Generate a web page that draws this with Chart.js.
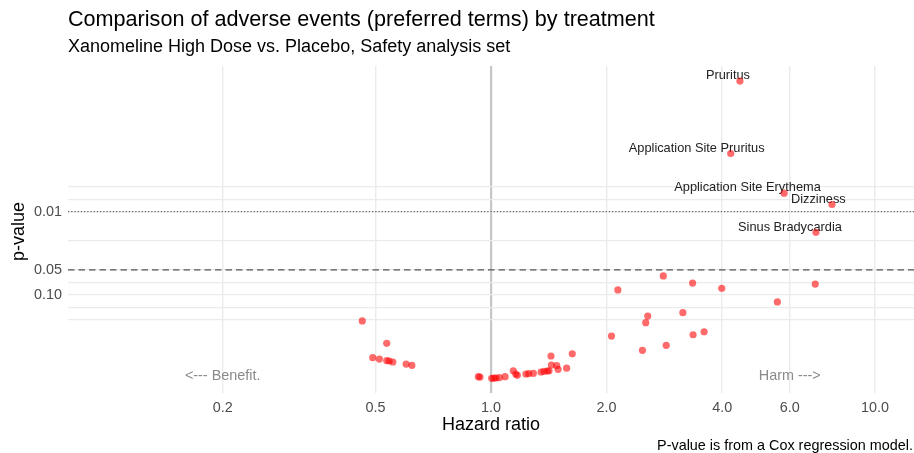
<!DOCTYPE html>
<html>
<head>
<meta charset="utf-8">
<script src="https://cdn.jsdelivr.net/npm/chart.js@4.4.1/dist/chart.umd.min.js"></script>
<style>
  html, body { margin: 0; padding: 0; background: #ffffff; }
  canvas { display: block; }
</style>
</head>
<body>
<canvas id="chart" width="914" height="453"></canvas>
<script>
// Preferred terms shown with a text label
const labelledTerms = ['Pruritus', 'Application Site Pruritus', 'Application Site Erythema', 'Dizziness', 'Sinus Bradycardia'];
const labelledHR = [4.45, 4.21, 5.80, 7.73, 7.02];
const labelledP = [0.00027, 0.0020, 0.0060, 0.0082, 0.0177];

// All other preferred terms
const otherHR = [2.81, 3.35, 3.99, 6.99, 2.14, 5.57, 3.16, 2.56, 2.53, 2.06, 3.36, 3.59, 2.48, 2.86,
                 0.462, 0.535, 0.492, 0.512, 0.535, 0.543, 0.555, 0.601, 0.622,
                 0.927, 0.936, 1.004, 1.018, 1.030, 1.051, 1.088, 1.143, 1.160, 1.171, 1.233, 1.254,
                 1.289, 1.350, 1.374, 1.402, 1.416, 1.433, 1.437, 1.483, 1.495, 1.574, 1.628];
const otherP = [0.059, 0.072, 0.083, 0.074, 0.087, 0.121, 0.163, 0.179, 0.215, 0.311, 0.300, 0.276, 0.461, 0.402,
                0.205, 0.380, 0.566, 0.587, 0.615, 0.620, 0.637, 0.674, 0.698,
                0.957, 0.965, 1.0, 0.995, 0.992, 0.984, 0.957, 0.811, 0.888, 0.920, 0.888, 0.881,
                0.871, 0.840, 0.824, 0.817, 0.811, 0.540, 0.692, 0.702, 0.780, 0.756, 0.508];

// Axis ticks
const xTickValues = [0.2, 0.5, 1, 2, 4, 6, 10];
const xTickText = ['0.2', '0.5', '1.0', '2.0', '4.0', '6.0', '10.0'];
const yGridP = [0.005, 0.00708, 0.01, 0.0224, 0.05, 0.0708, 0.1, 0.1416, 0.2];
const yLabelP = [0.01, 0.05, 0.1];
const yLabelText = ['0.01', '0.05', '0.10'];

// Significance reference lines
const refLineP = [0.01, 0.05];

// Direction hints along the bottom
const directionText = ['<--- Benefit.', 'Harm --->'];
const directionHR = [0.2, 6];
const directionP = [1, 1];

const FONT = '"Liberation Sans", Arial, Helvetica, sans-serif';

const toPoints = (hr, p) => hr.map((v, i) => ({ x: v, y: p[i] }));

const decorations = {
  id: 'decorations',
  beforeDatasetsDraw(chart, args, opts) {
    const { ctx, chartArea: a, scales: { x, y } } = chart;
    ctx.save();
    // reference lines at p = 0.01 (dotted) and p = 0.05 (dashed)
    refLineP.forEach((p, i) => {
      const py = y.getPixelForValue(p);
      ctx.beginPath();
      ctx.setLineDash(opts.refDash[i]);
      ctx.lineWidth = opts.refWidth[i];
      ctx.strokeStyle = opts.refColor[i];
      ctx.moveTo(a.left, py);
      ctx.lineTo(a.right, py);
      ctx.stroke();
    });
    ctx.setLineDash([]);
    // point labels
    const meta = chart.getDatasetMeta(0);
    ctx.font = '12.8px ' + FONT;
    ctx.fillStyle = '#222222';
    ctx.textAlign = 'center';
    ctx.textBaseline = 'middle';
    labelledTerms.forEach((t, i) => {
      const el = meta.data[i];
      const off = opts.labelOffsets[i];
      ctx.fillText(t, el.x + off[0], el.y + off[1]);
    });
    ctx.restore();
  },
  afterDraw(chart) {
    const { ctx, chartArea: a, scales: { x, y } } = chart;
    ctx.save();
    ctx.textBaseline = 'middle';
    // direction hints
    ctx.font = '14.4px ' + FONT;
    ctx.fillStyle = '#8a8a8a';
    ctx.textAlign = 'center';
    directionText.forEach((t, i) => {
      ctx.fillText(t, x.getPixelForValue(directionHR[i]), y.getPixelForValue(directionP[i]) - 2);
    });
    // title and subtitle
    ctx.fillStyle = '#000000';
    ctx.textAlign = 'left';
    ctx.font = '21.6px ' + FONT;
    ctx.fillText('Comparison of adverse events (preferred terms) by treatment', a.left, 20);
    ctx.font = '18px ' + FONT;
    ctx.fillText('Xanomeline High Dose vs. Placebo, Safety analysis set', a.left, 47);
    // axis titles
    ctx.textAlign = 'center';
    ctx.fillText('Hazard ratio', (a.left + a.right) / 2, 425);
    ctx.save();
    ctx.translate(19, (a.top + a.bottom) / 2 + 2);
    ctx.rotate(-Math.PI / 2);
    ctx.fillText('p-value', 0, 0);
    ctx.restore();
    // caption
    ctx.font = '14.4px ' + FONT;
    ctx.textAlign = 'right';
    ctx.fillText('P-value is from a Cox regression model.', 913, 446);
    ctx.restore();
  }
};

const pointStyle = {
  backgroundColor: 'rgba(255, 0, 0, 0.58)',
  borderWidth: 0,
  pointRadius: 3.6,
  pointHoverRadius: 3.6
};

new Chart(document.getElementById('chart'), {
  type: 'scatter',
  data: {
    datasets: [
      Object.assign({ label: 'Labelled terms', data: toPoints(labelledHR, labelledP) }, pointStyle),
      Object.assign({ label: 'Other terms', data: toPoints(otherHR, otherP) }, pointStyle)
    ]
  },
  options: {
    responsive: false,
    animation: false,
    devicePixelRatio: 1,
    layout: { autoPadding: false, padding: { top: 66, right: 0, bottom: 0, left: 0 } },
    plugins: {
      legend: { display: false },
      tooltip: { enabled: false },
      decorations: {
        refDash: [[1.3, 1.9], [6.5, 4]],
        refWidth: [1.2, 1.2],
        refColor: ['#666666', '#555555'],
        labelOffsets: [[-12, -5.7], [-34, -5.4], [-36.6, -5.3], [-13.7, -5.3], [-26, -4.6]]
      }
    },
    scales: {
      x: {
        type: 'logarithmic',
        min: 0.0791,
        max: 12.64,
        border: { display: false },
        grid: {
          drawTicks: false,
          color: c => (c.tick && c.tick.value === 1 ? '#c6c6c6' : '#ebebeb'),
          lineWidth: c => (c.tick && c.tick.value === 1 ? 2.2 : 1.4)
        },
        afterBuildTicks: s => { s.ticks = xTickValues.map(v => ({ value: v })); },
        afterFit: s => { s.height = 60; s.paddingLeft = 0; s.paddingRight = 0; },
        ticks: {
          autoSkip: false,
          maxRotation: 0,
          padding: 6,
          color: '#4d4d4d',
          font: { family: FONT, size: 14.4 },
          callback: v => { const i = xTickValues.indexOf(v); return i >= 0 ? xTickText[i] : ''; }
        }
      },
      y: {
        type: 'logarithmic',
        reverse: true,
        min: 0.0001782,
        max: 1.501,
        border: { display: false },
        grid: { drawTicks: false, color: '#ebebeb', lineWidth: 1.2 },
        afterBuildTicks: s => { s.ticks = yGridP.map(v => ({ value: v })); },
        afterFit: s => { s.width = 68; s.paddingTop = 0; s.paddingBottom = 0; },
        ticks: {
          autoSkip: false,
          padding: 6,
          color: '#4d4d4d',
          font: { family: FONT, size: 14.4 },
          callback: v => { const i = yLabelP.indexOf(v); return i >= 0 ? yLabelText[i] : ''; }
        }
      }
    }
  },
  plugins: [decorations]
});
</script>
</body>
</html>
